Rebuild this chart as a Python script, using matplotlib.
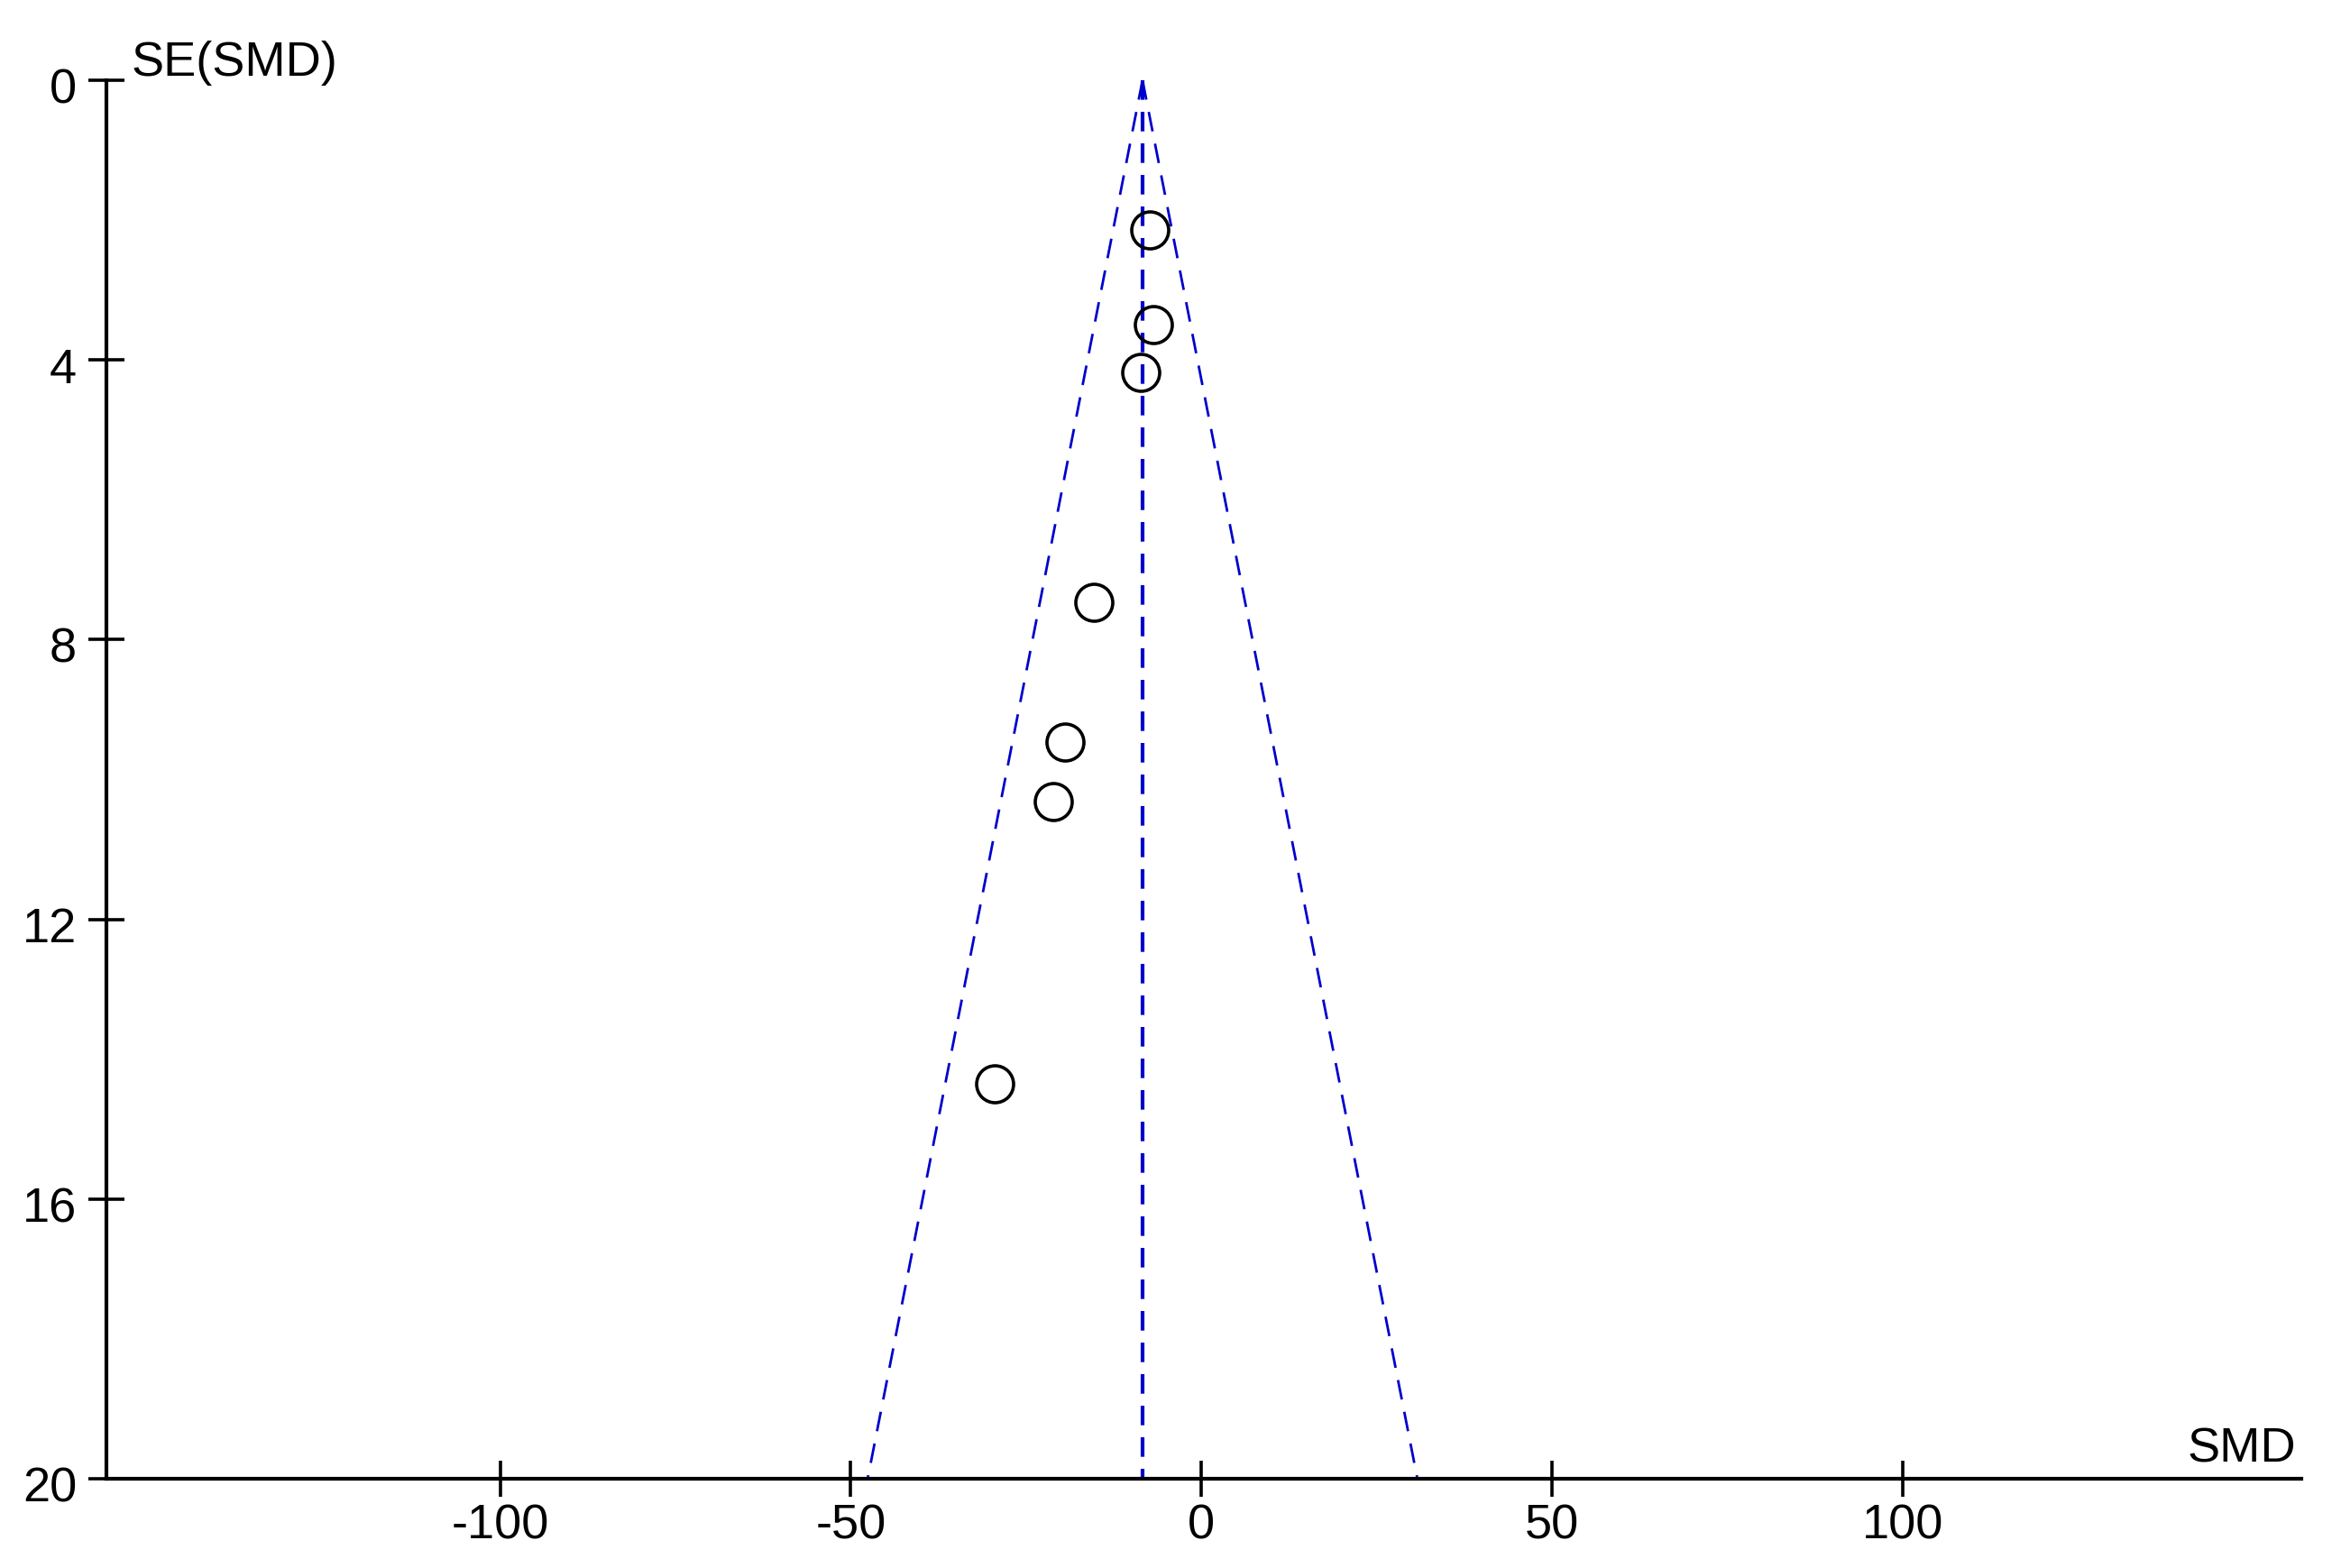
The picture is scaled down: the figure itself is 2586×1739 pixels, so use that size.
import matplotlib
matplotlib.use("Agg")
import matplotlib.pyplot as plt
import matplotlib.transforms as mtransforms

plt.rcParams["font.family"] = ["Liberation Sans", "DejaVu Sans"]
plt.rcParams["lines.scale_dashes"] = False
plt.rcParams["axes.unicode_minus"] = False

# study effects (SMD) and their standard errors
smd = [-7.4, -6.9, -8.6, -15.4, -19.4, -21.1, -29.5]
se_smd = [2.14, 3.49, 4.18, 7.47, 9.46, 10.31, 14.35]

pooled = -8.4  # pooled estimate (vertical dashed line)
se_max = 20

x_ticks = [-100, -50, 0, 50, 100]
y_ticks = [0, 4, 8, 12, 16, 20]

W, H = 2586, 1740
fig = plt.figure(figsize=(W / 100, H / 100), dpi=100)
ax = fig.add_axes([117.7 / W, 1 - 1641 / H, (2552.3 - 117.7) / W, (1641 - 90) / H])

blue = "#0000CC"

# funnel: pooled +/- 1.96 * SE
ax.plot([pooled, pooled], [0, se_max], color=blue, lw=3.0, dashes=(15.6, 9.6))
ax.plot([pooled, pooled - 1.96 * se_max], [0, se_max], color=blue, lw=2.0, dashes=(15.8, 10))
ax.plot([pooled, pooled + 1.96 * se_max], [0, se_max], color=blue, lw=2.0, dashes=(15.8, 10))

ax.plot(smd, se_smd, "o", ms=29.5, mfc="none", mec="black", mew=2.6, zorder=5)

ax.set_xlim(-156.2, 156.9)
ax.set_ylim(se_max, 0)
ax.set_xticks(x_ticks)
ax.set_yticks(y_ticks)

for s in ["top", "right"]:
    ax.spines[s].set_visible(False)
for s in ["left", "bottom"]:
    ax.spines[s].set_linewidth(3.0)

ax.tick_params(axis="both", direction="inout", length=28.8, width=2.6,
               labelsize=39, colors="black")
ax.tick_params(axis="x", pad=5)
ax.tick_params(axis="y", pad=9)

# y labels sit a little below their ticks in the original
shift = mtransforms.ScaledTranslation(0, -5 / 100, fig.dpi_scale_trans)
for lab in ax.get_yticklabels():
    lab.set_transform(lab.get_transform() + shift)

fig.text(145 / W, 1 - 84 / H, "SE(SMD)", fontsize=39, ha="left", va="baseline")
fig.text(2546 / W, 1 - 1622 / H, "SMD", fontsize=39, ha="right", va="baseline")

fig.savefig("out.png", dpi=100)
